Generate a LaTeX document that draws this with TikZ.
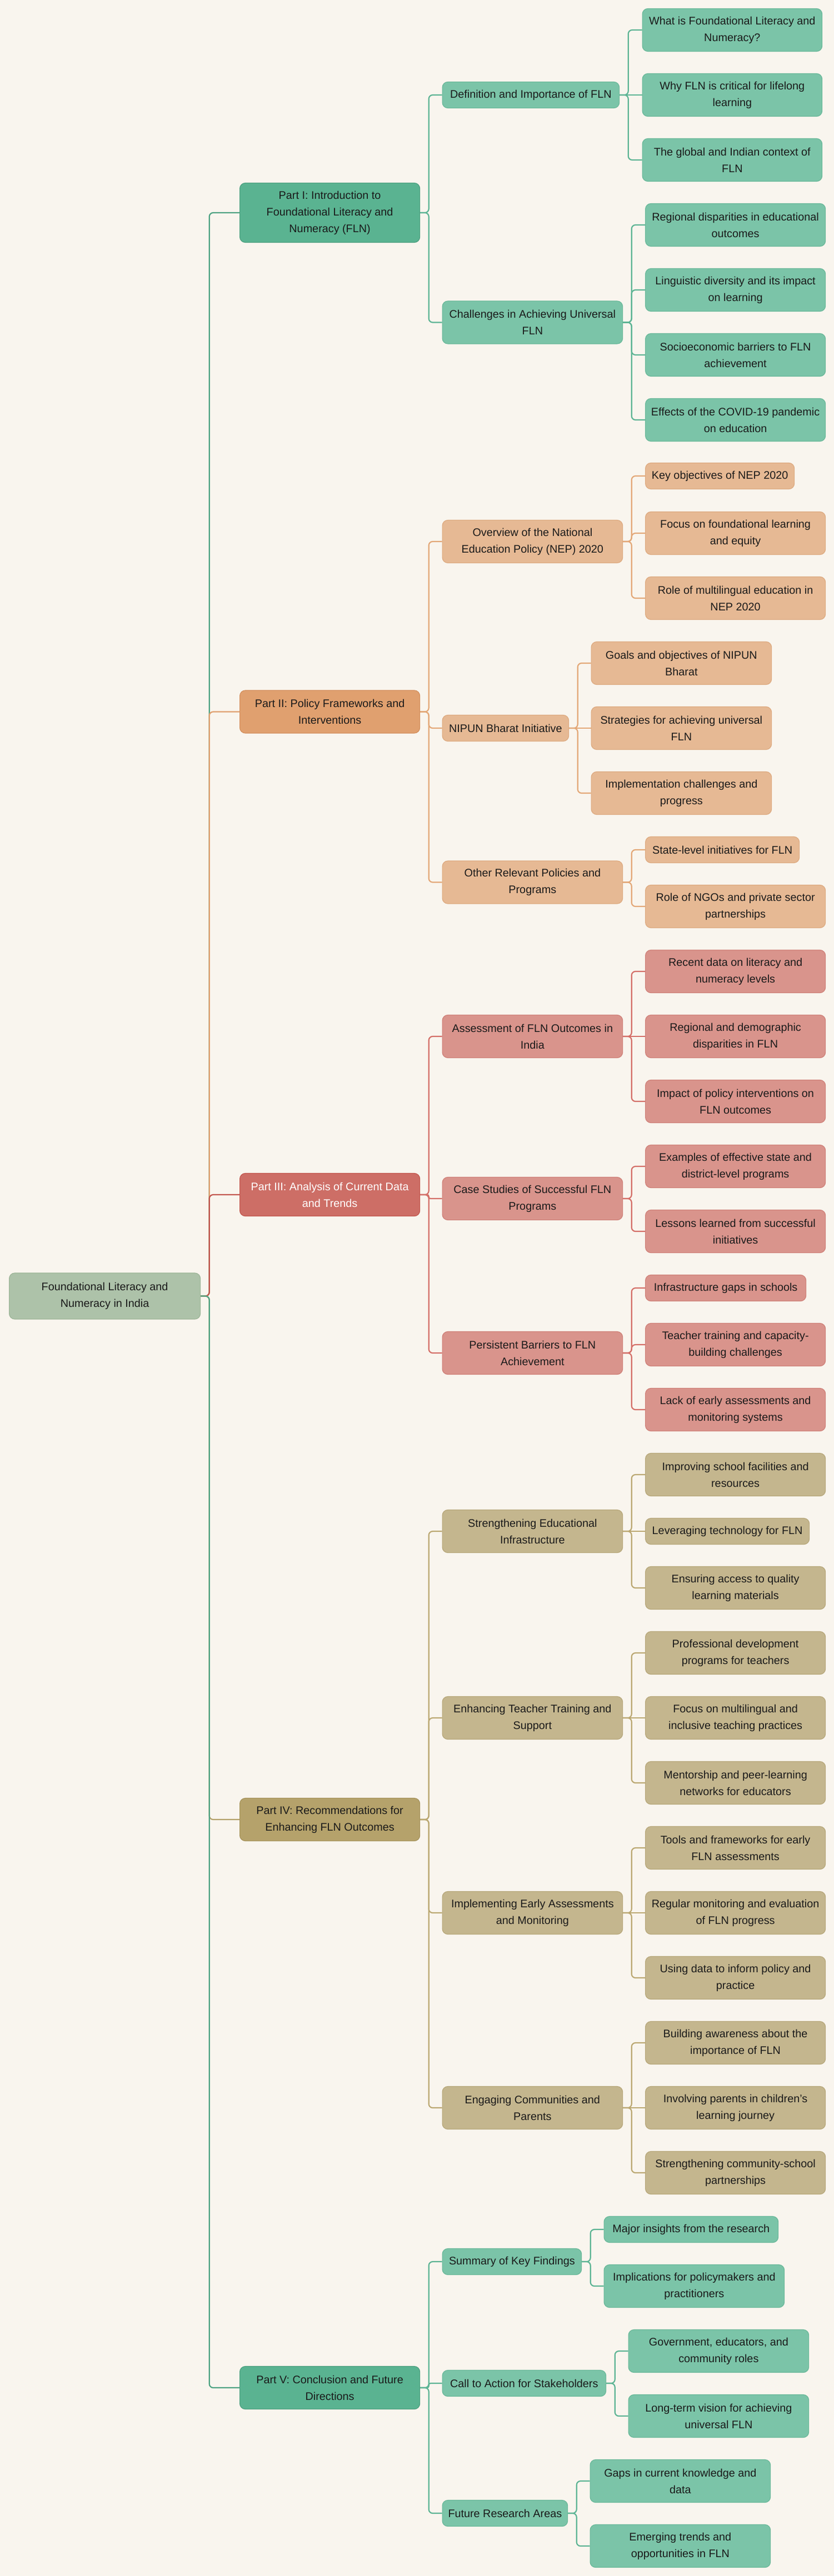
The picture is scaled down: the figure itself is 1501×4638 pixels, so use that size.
\documentclass[tikz,border=0pt]{standalone}
\usepackage{fontspec}
\setmainfont{Liberation Sans}
\definecolor{bgc}{HTML}{F9F5EE}
\definecolor{txt}{HTML}{1A1A1A}
\definecolor{rootF}{HTML}{ADC2A9}\definecolor{rootD}{HTML}{9DB598}
\definecolor{gPF}{HTML}{5AB391}\definecolor{gPD}{HTML}{4C9F7F}
\definecolor{gSF}{HTML}{7BC4A8}\definecolor{gSD}{HTML}{6AB899}\definecolor{gL}{HTML}{5DB494}
\definecolor{oPF}{HTML}{E0A06F}\definecolor{oPD}{HTML}{D38F5D}
\definecolor{oSF}{HTML}{E6B994}\definecolor{oSD}{HTML}{DDAA80}\definecolor{oL}{HTML}{E3A878}
\definecolor{rPF}{HTML}{CD6E66}\definecolor{rPD}{HTML}{C2564E}
\definecolor{rSF}{HTML}{D9948C}\definecolor{rSD}{HTML}{CF8078}\definecolor{rL}{HTML}{D46F68}
\definecolor{yPF}{HTML}{B5A26B}\definecolor{yPD}{HTML}{A6935B}
\definecolor{ySF}{HTML}{C4B68E}\definecolor{ySD}{HTML}{B7A77A}\definecolor{yL}{HTML}{BBA872}
\pgfdeclarelayer{bg}
\pgfdeclarelayer{paper}
\pgfsetlayers{paper,bg,main}
\newcommand{\fs}{\fontsize{19.8}{30}\selectfont}
\newcommand{\conn}[3]{\draw[#1] (#2.east) -- ++(15.5,0) |- (#3.west);}
\newcommand{\sconn}[3]{\draw[#1] (#2.east) -- (#3.west);}
\begin{document}
\begin{tikzpicture}[x=1pt,y=-1pt,
  box/.style={rounded corners=10, draw, line width=1.2, inner sep=0pt, align=center, font=\fs, text=txt, anchor=west},
  ha/.style={minimum height=47},
  hb/.style={minimum height=77},
  hc/.style={minimum height=107},
  rootN/.style={box, fill=rootF, draw=rootD, minimum height=83},
  gP/.style={box, fill=gPF, draw=gPD}, gS/.style={box, fill=gSF, draw=gSD},
  oP/.style={box, fill=oPF, draw=oPD}, oS/.style={box, fill=oSF, draw=oSD},
  rP/.style={box, fill=rPF, draw=rPD, text=white}, rS/.style={box, fill=rSF, draw=rSD},
  yP/.style={box, fill=yPF, draw=yPD}, yS/.style={box, fill=ySF, draw=ySD},
  lnk/.style={line width=2.2, rounded corners=7},
  jog/.style={rounded corners=3},
  gTop/.style={lnk, draw=gPD!80!gL}, oTop/.style={lnk, draw=oPF}, rTop/.style={lnk, draw=rPD}, yTop/.style={lnk, draw=yPF},
  gE/.style={lnk, draw=gL}, oE/.style={lnk, draw=oL}, rE/.style={lnk, draw=rL}, yE/.style={lnk, draw=yL}
]
\begin{pgfonlayer}{paper}
\fill[bgc] (0,0) rectangle (1501,4638);
\end{pgfonlayer}
\useasboundingbox (0,0) rectangle (1501,4638);

% root
\node[rootN, minimum width=344] (root) at (16,2333.5) {Foundational Literacy and\\Numeracy in India};

% ---------- Part I ----------
\node[gP, hc, minimum width=324] (p1) at (431,383) {Part I: Introduction to\\Foundational Literacy and\\Numeracy (FLN)};
\node[gS, ha, minimum width=318.5] (a1) at (795.5,171) {Definition and Importance of FLN};
\node[gS, hb, minimum width=323.5] (a1l1) at (1155.5,54) {What is Foundational Literacy and\\Numeracy?};
\node[gS, hb, minimum width=323.5] (a1l2) at (1155.5,171) {Why FLN is critical for lifelong\\learning};
\node[gS, hb, minimum width=323.5] (a1l3) at (1155.5,288) {The global and Indian context of\\FLN};
\node[gS, hb, minimum width=324.5] (a2) at (795.5,580.5) {Challenges in Achieving Universal\\FLN};
\node[gS, hb, minimum width=324] (a2l1) at (1161,405) {Regional disparities in educational\\outcomes};
\node[gS, hb, minimum width=324] (a2l2) at (1161,522) {Linguistic diversity and its impact\\on learning};
\node[gS, hb, minimum width=324] (a2l3) at (1161,639) {Socioeconomic barriers to FLN\\achievement};
\node[gS, hb, minimum width=324] (a2l4) at (1161,756) {Effects of the COVID-19 pandemic\\on education};

% ---------- Part II ----------
\node[oP, hb, minimum width=324] (p2) at (431,1281.5) {Part II: Policy Frameworks and\\Interventions};
\node[oS, hb, minimum width=324.5] (b1) at (795.5,975) {Overview of the National\\Education Policy (NEP) 2020};
\node[oS, ha, minimum width=268] (b1l1) at (1161,857) {Key objectives of NEP 2020};
\node[oS, hb, minimum width=324] (b1l2) at (1161,960) {Focus on foundational learning\\and equity};
\node[oS, hb, minimum width=324] (b1l3) at (1161,1077) {Role of multilingual education in\\NEP 2020};
\node[oS, ha, minimum width=227.5] (b2) at (795.5,1311) {NIPUN Bharat Initiative};
\node[oS, hb, minimum width=324.5] (b2l1) at (1063.5,1194) {Goals and objectives of NIPUN\\Bharat};
\node[oS, hb, minimum width=324.5] (b2l2) at (1063.5,1311) {Strategies for achieving universal\\FLN};
\node[oS, hb, minimum width=324.5] (b2l3) at (1063.5,1428) {Implementation challenges and\\progress};
\node[oS, hb, minimum width=324.5] (b3) at (795.5,1588.5) {Other Relevant Policies and\\Programs};
\node[oS, ha, minimum width=277] (b3l1) at (1161,1530) {State-level initiatives for FLN};
\node[oS, hb, minimum width=324] (b3l2) at (1161,1632) {Role of NGOs and private sector\\partnerships};

% ---------- Part III ----------
\node[rP, hb, minimum width=324] (p3) at (431,2151) {Part III: Analysis of Current Data\\and Trends};
\node[rS, hb, minimum width=324.5] (c1) at (795.5,1866) {Assessment of FLN Outcomes in\\India};
\node[rS, hb, minimum width=324] (c1l1) at (1161,1749) {Recent data on literacy and\\numeracy levels};
\node[rS, hb, minimum width=324] (c1l2) at (1161,1866) {Regional and demographic\\disparities in FLN};
\node[rS, hb, minimum width=324] (c1l3) at (1161,1983) {Impact of policy interventions on\\FLN outcomes};
\node[rS, hb, minimum width=324.5] (c2) at (795.5,2158) {Case Studies of Successful FLN\\Programs};
\node[rS, hb, minimum width=324] (c2l1) at (1161,2100) {Examples of effective state and\\district-level programs};
\node[rS, hb, minimum width=324] (c2l2) at (1161,2217) {Lessons learned from successful\\initiatives};
\node[rS, hb, minimum width=324.5] (c3) at (795.5,2436) {Persistent Barriers to FLN\\Achievement};
\node[rS, ha, minimum width=289] (c3l1) at (1161,2319) {Infrastructure gaps in schools};
\node[rS, hb, minimum width=324] (c3l2) at (1161,2421) {Teacher training and capacity-\\building challenges};
\node[rS, hb, minimum width=324] (c3l3) at (1161,2538) {Lack of early assessments and\\monitoring systems};

% ---------- Part IV ----------
\node[yP, hb, minimum width=324] (p4) at (431,3276) {Part IV: Recommendations for\\Enhancing FLN Outcomes};
\node[yS, hb, minimum width=324.5] (d1) at (795.5,2757) {Strengthening Educational\\Infrastructure};
\node[yS, hb, minimum width=324] (d1l1) at (1161,2655) {Improving school facilities and\\resources};
\node[yS, ha, minimum width=295] (d1l2) at (1161,2757) {Leveraging technology for FLN};
\node[yS, hb, minimum width=324] (d1l3) at (1161,2859) {Ensuring access to quality\\learning materials};
\node[yS, hb, minimum width=324.5] (d2) at (795.5,3093) {Enhancing Teacher Training and\\Support};
\node[yS, hb, minimum width=324] (d2l1) at (1161,2976) {Professional development\\programs for teachers};
\node[yS, hb, minimum width=324] (d2l2) at (1161,3093) {Focus on multilingual and\\inclusive teaching practices};
\node[yS, hb, minimum width=324] (d2l3) at (1161,3210) {Mentorship and peer-learning\\networks for educators};
\node[yS, hb, minimum width=324.5] (d3) at (795.5,3444) {Implementing Early Assessments\\and Monitoring};
\node[yS, hb, minimum width=324] (d3l1) at (1161,3327) {Tools and frameworks for early\\FLN assessments};
\node[yS, hb, minimum width=324] (d3l2) at (1161,3444) {Regular monitoring and evaluation\\of FLN progress};
\node[yS, hb, minimum width=324] (d3l3) at (1161,3561) {Using data to inform policy and\\practice};
\node[yS, hb, minimum width=324.5] (d4) at (795.5,3795) {Engaging Communities and\\Parents};
\node[yS, hb, minimum width=324] (d4l1) at (1161,3678) {Building awareness about the\\importance of FLN};
\node[yS, hb, minimum width=324] (d4l2) at (1161,3795) {Involving parents in children's\\learning journey};
\node[yS, hb, minimum width=324] (d4l3) at (1161,3912) {Strengthening community-school\\partnerships};

% ---------- Part V ----------
\node[gP, hb, minimum width=324] (p5) at (431,4299) {Part V: Conclusion and Future\\Directions};
\node[gS, ha, minimum width=250.5] (e1) at (795.5,4072) {Summary of Key Findings};
\node[gS, ha, minimum width=313.5] (e1l1) at (1086.5,4014) {Major insights from the research};
\node[gS, hb, minimum width=324.5] (e1l2) at (1086.5,4116) {Implications for policymakers and\\practitioners};
\node[gS, ha, minimum width=294.5] (e2) at (795.5,4291) {Call to Action for Stakeholders};
\node[gS, hb, minimum width=324.5] (e2l1) at (1130.5,4233) {Government, educators, and\\community roles};
\node[gS, hb, minimum width=324.5] (e2l2) at (1130.5,4350) {Long-term vision for achieving\\universal FLN};
\node[gS, ha, minimum width=225.5] (e3) at (795.5,4525) {Future Research Areas};
\node[gS, hb, minimum width=324.5] (e3l1) at (1061.5,4467) {Gaps in current knowledge and\\data};
\node[gS, hb, minimum width=324.5] (e3l2) at (1061.5,4584) {Emerging trends and\\opportunities in FLN};

\begin{pgfonlayer}{bg}
% root to parts (order matters: later ones overlay)
\conn{gTop}{root}{p1}
\conn{oTop}{root}{p2}
\conn{rTop}{root}{p3}
\conn{yTop}{root}{p4}
\conn{gTop}{root}{p5}
% Part I
\conn{gE}{p1}{a1}\conn{gE}{p1}{a2}
\conn{gE}{a1}{a1l1}\sconn{gE}{a1}{a1l2}\conn{gE}{a1}{a1l3}
\conn{gE}{a2}{a2l1}\conn{gE}{a2}{a2l2}\conn{gE}{a2}{a2l3}\conn{gE}{a2}{a2l4}
% Part II
\conn{oE}{p2}{b1}\conn{oE}{p2}{b2}\conn{oE}{p2}{b3}
\conn{oE}{b1}{b1l1}\conn{oE}{b1}{b1l2}\conn{oE}{b1}{b1l3}
\conn{oE}{b2}{b2l1}\sconn{oE}{b2}{b2l2}\conn{oE}{b2}{b2l3}
\conn{oE}{b3}{b3l1}\conn{oE}{b3}{b3l2}
% Part III
\conn{rE}{p3}{c1}\conn{rE,jog}{p3}{c2}\conn{rE}{p3}{c3}
\conn{rE}{c1}{c1l1}\sconn{rE}{c1}{c1l2}\conn{rE}{c1}{c1l3}
\conn{rE}{c2}{c2l1}\conn{rE}{c2}{c2l2}
\conn{rE}{c3}{c3l1}\conn{rE}{c3}{c3l2}\conn{rE}{c3}{c3l3}
% Part IV
\conn{yE}{p4}{d1}\conn{yE}{p4}{d2}\conn{yE}{p4}{d3}\conn{yE}{p4}{d4}
\conn{yE}{d1}{d1l1}\sconn{yE}{d1}{d1l2}\conn{yE}{d1}{d1l3}
\conn{yE}{d2}{d2l1}\sconn{yE}{d2}{d2l2}\conn{yE}{d2}{d2l3}
\conn{yE}{d3}{d3l1}\sconn{yE}{d3}{d3l2}\conn{yE}{d3}{d3l3}
\conn{yE}{d4}{d4l1}\sconn{yE}{d4}{d4l2}\conn{yE}{d4}{d4l3}
% Part V
\conn{gE}{p5}{e1}\conn{gE,jog}{p5}{e2}\conn{gE}{p5}{e3}
\conn{gE}{e1}{e1l1}\conn{gE}{e1}{e1l2}
\conn{gE}{e2}{e2l1}\conn{gE}{e2}{e2l2}
\conn{gE}{e3}{e3l1}\conn{gE}{e3}{e3l2}
\end{pgfonlayer}
\end{tikzpicture}
\end{document}
